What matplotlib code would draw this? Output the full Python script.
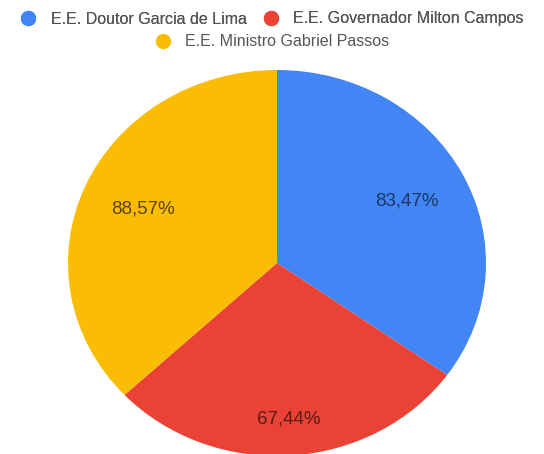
import numpy as np
import matplotlib.pyplot as plt
from matplotlib.lines import Line2D

plt.rcParams['font.family'] = ['Liberation Sans', 'DejaVu Sans']

# Dados
escolas = ["E.E. Doutor Garcia de Lima", "E.E. Governador Milton Campos",
           "E.E. Ministro Gabriel Passos"]
valores = [83.47, 67.44, 88.57]
cores = ["#4285F4", "#EA4335", "#FBBC04"]
cores_texto = ["#1c3766", "#5e1a14", "#5a4400"]

fig = plt.figure(figsize=(5.44, 4.54), dpi=100)
# eixo com proporção livre (a pizza original é levemente achatada)
ax = fig.add_axes([68 / 544, (454 - 456) / 454, 418 / 544, 386 / 454])

wedges, texts, autotexts = ax.pie(
    valores, colors=cores, startangle=90, counterclock=False,
    autopct=lambda p: "", pctdistance=0.7,
    wedgeprops=dict(linewidth=0))

# rótulos com os valores (formato brasileiro)
for w, v, t, c, d in zip(wedges, valores, autotexts, cores_texto, [0.7, 0.81, 0.7]):
    ang = np.deg2rad((w.theta1 + w.theta2) / 2)
    t.set_position((d * np.cos(ang), d * np.sin(ang)))
    t.set_text(f"{v:.2f}%".replace(".", ","))
    t.set_color(c)
    t.set_fontsize(13.5)

ax.set_aspect('auto')
ax.set_xlim(-1, 1)
ax.set_ylim(-1, 1)
ax.axis('off')

# legenda em duas linhas
handles = [Line2D([], [], marker='o', linestyle='', markersize=10,
                  markerfacecolor=c, markeredgecolor=c) for c in cores]
estilo = dict(loc='center', frameon=False, fontsize=11.5, handlelength=1.0,
              handletextpad=0.9, labelcolor='#555555')
leg1 = fig.legend(handles[:2], escolas[:2], ncol=2, columnspacing=1.0,
                  bbox_to_anchor=(0.5, 1 - 19 / 454), **estilo)
fig.add_artist(leg1)
fig.legend(handles[2:], escolas[2:], bbox_to_anchor=(0.5, 1 - 42 / 454), **estilo)

fig.savefig("out.png", dpi=100)
